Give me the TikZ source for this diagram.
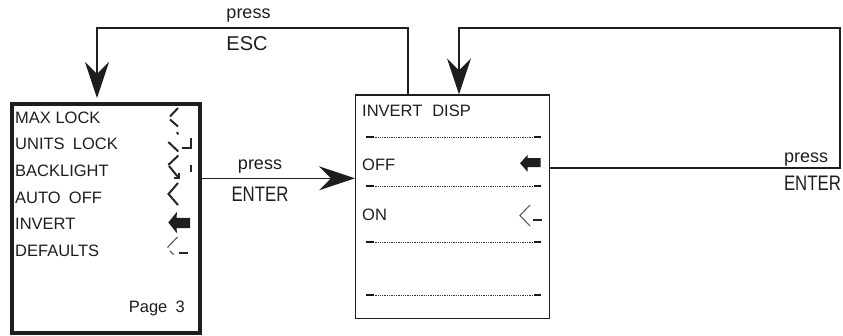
\documentclass[tikz,border=0pt]{standalone}
\usepackage{fontspec}
\setmainfont{Liberation Sans}
\newfontfamily\condfont[FakeStretch=0.8]{Liberation Sans}
\usetikzlibrary{arrows.meta}
\definecolor{ink}{HTML}{1E1E1E}
\tikzset{
  item/.style={anchor=base west, inner sep=0pt, text=ink, font=\fontsize{16.5}{19}\selectfont},
  lab/.style={anchor=base, inner sep=0pt, text=ink, font=\fontsize{18}{20}\selectfont},
  keylab/.style={anchor=base, inner sep=0pt, text=ink, font=\condfont\fontsize{21}{24}\selectfont},
  esclab/.style={anchor=base, inner sep=0pt, text=ink, font=\fontsize{20}{24}\selectfont},
  conn/.style={draw=ink, line width=1.2pt},
  bigtip/.style={-{Stealth[length=36pt, width=24pt, inset=12pt]}},
  seg/.style={draw=black!85, line width=2pt},
  thinseg/.style={draw=black!65, line width=1.1pt},
  sep/.style={draw=black!80, line width=1pt, dash pattern=on 1.3pt off 1pt},
  sepend/.style={draw=black!90, line width=1.3pt},
}
\begin{document}
\begin{tikzpicture}[x=1pt,y=-1pt]
\useasboundingbox (0,0) rectangle (843,335);

% boxes
\node[draw=ink, line width=4pt, rectangle, inner sep=0pt, anchor=north west,
      minimum width=187.5pt, minimum height=229pt] (menu) at (10,102) {};
\node[draw=ink, line width=1.4pt, rectangle, inner sep=0pt, anchor=north west,
      minimum width=194pt, minimum height=223.7pt] (disp) at (355,94.3) {};

% menu items
\node[item] (i1) at (15,123.3) {MAX LOCK};
\node[item] (i2) at (15,149.9) {UNITS\hspace{0.5em}LOCK};
\node[item] (i3) at (15,176.5) {BACKLIGHT};
\node[item] (i4) at (15,203.1) {AUTO\hspace{0.5em}OFF};
\node[item] (i5) at (15,229.7) {INVERT};
\node[item] (i6) at (15,256.3) {DEFAULTS};
\node[item, anchor=base east] (pg) at (185,312) {Page\hspace{0.5em}3};

% segment icons in the menu
\draw[seg] (178,108) -- (170,116.5);
\draw[seg] (170,119.5) -- (178,126.5);
\draw[seg] (177.2,132) -- (178,134.5);
\draw[seg] (168.3,142) -- (178.3,151.5);
\draw[seg] (178.3,155.5) -- (168.3,165);
\draw[seg] (190.5,138) -- (190.5,148.3) -- (182,148.3);
\draw[seg] (190.5,164.5) -- (190.5,172);
\draw[seg] (169,166) -- (178,177);
\draw[seg] (174,177.5) -- (178.5,177.5) -- (178.5,173);
\draw[seg] (178,183) -- (168.5,194) -- (178,205);
\fill[ink] (168.3,222.5) -- (177,211.7) -- (176.5,217.8) -- (190,217.8) -- (190,228) -- (176.5,228) -- (177,233.3) -- cycle;
\draw[thinseg] (177.5,237) -- (167.5,247.5);
\draw[thinseg] (170,251) -- (173.5,254.5);
\draw[seg] (178.5,253) -- (188,253);

% display box contents
\node[item] (t0) at (362,116.7) {INVERT\hspace{0.6em}DISP};
\node[item] (off) at (362,170) {OFF};
\node[item] (on) at (362,220) {ON};
\foreach \yy in {137,186,242,295}{
  \draw[sep] (366,\yy) -- (540,\yy);
  \draw[sepend] (366,\yy) -- (374,\yy);
  \draw[sepend] (534,\yy) -- (541,\yy);
}
\fill[ink] (520,163.3) -- (527.5,155) -- (527.5,158.2) -- (540.5,158.2) -- (540.5,167) -- (527.5,167) -- (527.5,171.7) -- cycle;
\draw[thinseg] (530,205) -- (520,215.5) -- (530,226);
\draw[seg] (533,220) -- (542,220);

% connectors
\coordinate (e1) at (408,28);
\coordinate (e2) at (97,28);
\draw[conn, bigtip, shorten >=4pt] (e1 |- disp.north) -- (e1) -- (e2) -- (e2 |- menu.north);

\coordinate (r1) at (840,168);
\coordinate (r2) at (840,28);
\coordinate (r3) at (459,28);
\draw[conn, bigtip] (disp.east |- r1) -- (r1) -- (r2) -- (r3) -- (r3 |- disp.north);

\coordinate (m) at (0,178.3);
\draw[conn, bigtip] (menu.east |- m) -- (disp.west |- m);

% labels
\node[lab] (p1) at (248.5,18.5) {press};
\node[esclab] (k1) at (247,50) {ESC};
\node[lab] (p2) at (260,169) {press};
\node[keylab] (k2) at (260,201) {ENTER};
\node[lab] (p3) at (806,162) {press};
\node[keylab] (k3) at (812.5,190) {ENTER};
\end{tikzpicture}
\end{document}
